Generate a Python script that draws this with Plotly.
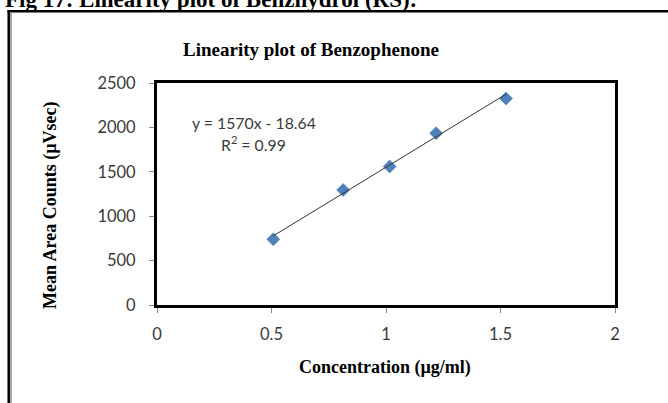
import plotly.graph_objects as go

# Calibration data: concentration vs. mean peak area
concentration = [0.508, 0.813, 1.016, 1.219, 1.524]
mean_area = [740, 1295, 1560, 1935, 2325]

# Linear regression reported for the series
SLOPE = 1570
INTERCEPT = -18.64
R_SQUARED = 0.99

x_ticks = [0, 0.5, 1, 1.5, 2]
y_ticks = [0, 500, 1000, 1500, 2000, 2500]

W, H = 668, 403
L, R, T, B = 157, 615, 83, 305  # plot-area edges in pixels


def px(x):
    return (x - L) / (R - L)


def py(y):
    return (B - y) / (B - T)


fit_x = [min(concentration), max(concentration)]
fit_y = [SLOPE * v + INTERCEPT for v in fit_x]

fig = go.Figure()
fig.add_trace(go.Scatter(
    x=concentration, y=mean_area, mode="markers",
    marker=dict(symbol="diamond", size=10, color="#4F81BD",
                line=dict(width=0.5, color="#3f6fa8")),
    showlegend=False, hoverinfo="x+y",
))
fig.add_trace(go.Scatter(
    x=fit_x, y=fit_y, mode="lines",
    line=dict(color="#333333", width=1),
    showlegend=False, hoverinfo="skip",
))

tick_font = dict(family="Lato, Calibri, sans-serif", size=16.5, color="#3a3a3a")
eq_font = dict(family="Lato, Calibri, sans-serif", size=15.8, color="#3a3a3a")
serif_bold = "Liberation Serif, Times New Roman, serif"

fig.update_xaxes(
    range=[0, 2], tickvals=x_ticks, ticktext=[f"{v:g}" for v in x_ticks],
    showgrid=False, zeroline=False,
    showline=True, mirror=True, linecolor="black", linewidth=3,
    ticks="outside", ticklen=5, tickwidth=1, tickcolor="#868686",
    ticklabelstandoff=7, tickfont=tick_font,
)
fig.update_yaxes(
    range=[0, 2500], tickvals=y_ticks, ticktext=[str(v) for v in y_ticks],
    showgrid=False, zeroline=False,
    showline=True, mirror=True, linecolor="black", linewidth=3,
    ticks="outside", ticklen=5, tickwidth=1, tickcolor="#868686",
    ticklabelstandoff=10, tickfont=tick_font,
)

annotations = [
    dict(text="<b>Fig 17: Linearity plot of Benzhydrol (RS):</b>",
         x=px(3), y=py(-1), xanchor="left", yanchor="middle",
         font=dict(family=serif_bold, size=23, color="black")),
    dict(text="<b>Linearity plot of Benzophenone</b>",
         x=px(311), y=py(50), xanchor="center", yanchor="middle",
         font=dict(family=serif_bold, size=19, color="black")),
    dict(text="<b>Concentration (µg/ml)</b>",
         x=px(385), y=py(367), xanchor="center", yanchor="middle",
         font=dict(family=serif_bold, size=18, color="black")),
    dict(text="<b>Mean Area Counts (µVsec)</b>", textangle=-90,
         x=px(50), y=py(205), xanchor="center", yanchor="middle",
         font=dict(family=serif_bold, size=18, color="black")),
    dict(text=f"y = {SLOPE:g}x - {abs(INTERCEPT):g}",
         x=px(253.5), y=py(122), xanchor="center", yanchor="middle",
         font=eq_font),
    dict(text=f"R<sup>2</sup> = {R_SQUARED:g}",
         x=px(253.5), y=py(143), xanchor="center", yanchor="middle",
         font=eq_font),
]
for a in annotations:
    a.update(xref="paper", yref="paper", showarrow=False)

# Outer frame around the figure block
shapes = [
    dict(type="line", x0=px(7.5), x1=px(700), y0=py(11.3), y1=py(11.3),
         line=dict(color="black", width=2.5)),
    dict(type="line", x0=px(8.7), x1=px(8.7), y0=py(10), y1=py(420),
         line=dict(color="black", width=2.5)),
    dict(type="line", x0=px(11), x1=px(11), y0=py(12.5), y1=py(420),
         line=dict(color="#a8a8a8", width=2)),
]
for s in shapes:
    s.update(xref="paper", yref="paper", layer="above")

fig.update_layout(
    width=W, height=H,
    margin=dict(l=L, r=W - R, t=T, b=H - B, pad=0),
    paper_bgcolor="white", plot_bgcolor="white",
    annotations=annotations, shapes=shapes,
)

fig.write_html("out.html")
